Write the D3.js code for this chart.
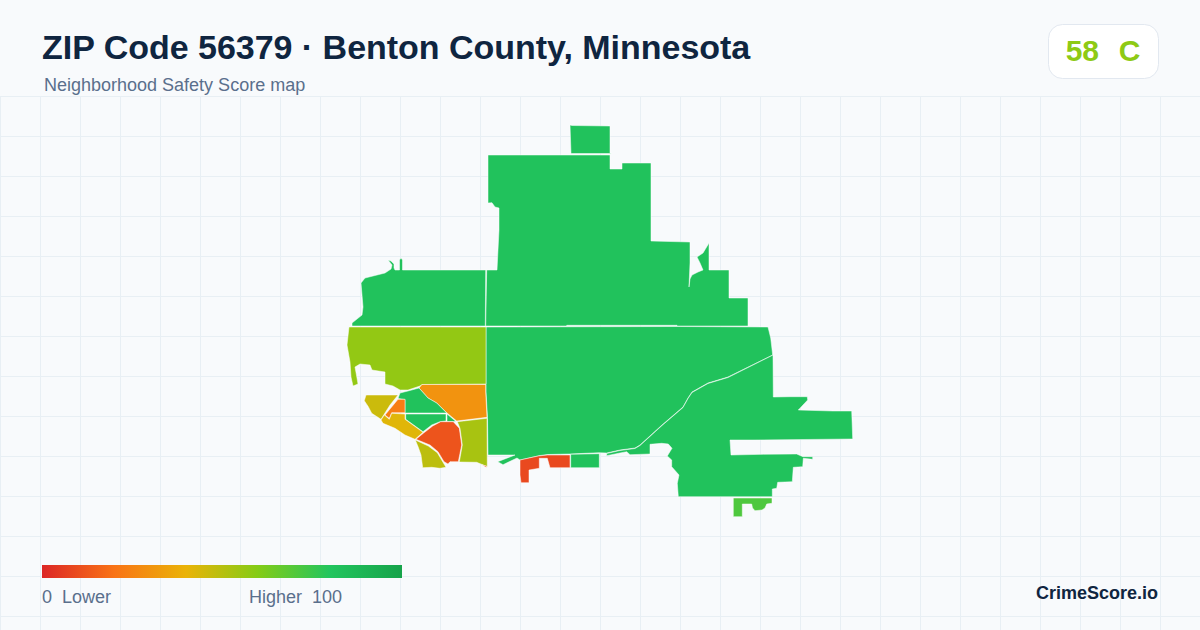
<!DOCTYPE html>
<html>
<head>
<meta charset="utf-8">
<script src="https://cdn.jsdelivr.net/npm/d3@7"></script>
<style>
  html, body { margin: 0; padding: 0; background: #f8fafc; }
  svg { display: block; }
  text { font-family: "Liberation Sans", Arial, sans-serif; white-space: pre; }
</style>
</head>
<body>
<div id="chart"></div>
<script>
// title block and legend text
const titleText = "ZIP Code 56379 · Benton County, Minnesota";
const subtitleText = "Neighborhood Safety Score map";
const badgeText = "58  C";
const legendLow = "0  Lower";
const legendHigh = "Higher  100";
const brandText = "CrimeScore.io";

// colour ramp of the score
const rampStops = [0, 20, 40, 60, 80, 100];
const rampColors = ["#dc2626", "#f97316", "#eab308", "#84cc16", "#22c55e", "#16a34a"];

// neighbourhood scores, read from the fills
const regionScores = [82, 82, 82, 82, 57, 30, 82, 82, 82, 23, 46, 42, 12, 49, 53, 15, 9, 82, 82, 71];

// neighbourhood outlines, traced in map units
const northTop = [[570,125],[572,125.5],[610,126],[610,153],[612,153.5],[571,153.5]];
const northBig = [[488,155],[610,155],[610,169],[622,169],[622,163],[651,163],[651,241],[690,242],[690,263],[689,287],[690,279],[692,275],[698,272],[703,270],[700,263],[697,257],[703,253],[709,243],[709,270],[729,270],[729,298],[748,298],[748,326],[677,326],[677,325.3],[566.7,325.3],[566.7,326],[485.7,326],[486.7,270],[497,270],[499,230],[499,208],[495,207],[492,202.7],[488,203]];
const northWest = [[399.5,270],[399.5,260],[401,258],[402.5,260],[402.5,270],[485.7,270],[485.3,326],[352,326],[352,323],[362,315],[363,307],[361,283],[365,278],[373,276],[385,273],[391,269],[392,265],[388,260],[391,261],[394,264],[394,268],[395,270]];
const central = [[486,327],[677,326.5],[768,327],[770.7,338],[772.7,355],[728,377],[708,383],[692,392],[688,398],[683,407],[662,425],[640,445],[635,448],[620,450],[606.7,453],[599,452.7],[570,454],[548,454.5],[540,455.5],[520,460],[517,458],[503,464.7],[497.7,461.7],[515,455],[488,455],[487.5,418],[486,392]];
const westLime = [[349,327],[486,327],[486,384],[422,384.5],[420,386],[408,390],[400,390],[393,386],[385,384],[385,372],[372,370],[370,365],[360,364],[355,367],[357,378],[358,384],[353,386],[351,377],[350,362],[347,345]];
const orangeEast = [[422,384.5],[485.7,384.5],[485.7,392],[487,417.3],[456.7,421],[446.7,412.7],[436.7,403],[428,398],[419,388]];
const greenUpper = [[419,388],[408,391],[400,393],[398,398.5],[405,399.5],[405,413],[446.7,413],[436.7,403],[428,398]];
const greenLower = [[405.7,414],[446,414],[446,421],[440,421.7],[431.7,425],[423,431.7],[405.7,419.3]];
const greenWedge = [[447,414],[456,421.5],[447,421.5]];
const orangeSmall = [[398,399.3],[405,399.3],[405,412.7],[391.7,412.7],[389.3,418.3],[385,415]];
const yellowWest = [[366,395],[398,395],[390,405],[381,419.3],[371.7,413.3],[368.3,406.7],[364.3,400.7]];
const amberStrip = [[381,420],[384.3,415],[389.3,419.3],[391.7,413.3],[405,414],[405,419.3],[423,432.3],[415,439.3],[405,435],[395,428.3],[383,423.3]];
const redCore = [[416,439.3],[423.3,433.3],[432.7,426],[440.7,421.7],[453.3,421.7],[459.3,428.3],[461.7,445],[458.3,461.7],[450,461.7],[448,464],[444,461.7],[438,451.7],[430,445]];
const oliveSouth = [[415.3,440],[428.3,446],[437.3,452.7],[446,467.3],[440,468.3],[431.7,467.3],[422.7,467.7],[421,455],[418.3,447.3]];
const limeSouth = [[457.3,421.7],[487,418.3],[487.3,466.7],[483.3,465],[476.7,462.3],[459.3,462],[462.3,445],[460,428.3]];
const redSpeck = [[482,465],[486.5,466],[486.5,467.5]];
const redRiver = [[520,460],[538.3,456],[547.3,455],[570,455],[570,467.7],[550,467.7],[547.3,458.3],[539.3,458.3],[539.3,468.3],[529,470],[529,482.7],[521,482.7],[520,475]];
const greenRiver = [[570.7,454.3],[599.3,453.7],[599.3,467.7],[570.7,467.7]];
const southEast = [[773,355],[773.3,397],[790,396.7],[807.3,396.7],[807.7,400],[798.3,410],[833,411],[851.7,411],[852.7,439],[753,440],[730,440],[731,455],[763.3,454.3],[796.7,454],[803,456.7],[812.7,456.7],[812.7,459.3],[803.3,458.3],[802.7,466.7],[793.3,467.3],[792.3,481.7],[777.7,482.3],[776.7,488.3],[772.3,489],[772.3,496.7],[678.3,496.7],[677.3,483.3],[679,475],[671.7,466.7],[671.7,460],[667.3,456],[672,448.3],[668.3,444],[661.7,443.3],[650,444.3],[650,454],[630,454.7],[626.7,451.7],[620,453],[606.7,455.7],[606.7,453.5],[620,450.5],[635,448.5],[640,445.5],[662,425.5],[683,407.5],[688,398.5],[692,392.5],[708,383.5],[728,377.5]];
const southTip = [[733.3,498],[772,498],[772,503.3],[766.7,504],[765,508],[762,510],[755,510.7],[752.5,508],[751.7,504],[742.3,504],[742.3,516.7],[733.3,516.7]];

const regionRings = [northTop, northBig, northWest, central, westLime, orangeEast, greenUpper, greenLower, greenWedge, orangeSmall, yellowWest, amberStrip, redCore, oliveSouth, limeSouth, redSpeck, redRiver, greenRiver, southEast, southTip];

const width = 1200, height = 630;

const svg = d3.select("#chart").append("svg")
  .attr("width", width)
  .attr("height", height);

svg.append("rect").attr("width", width).attr("height", height).attr("fill", "#f8fafc");

// background grid
const gridTop = 96, gridStep = 40;
const grid = svg.append("g").attr("stroke", "#e8eff4").attr("stroke-width", 1);
grid.selectAll("line.v")
  .data(d3.range(0, width, gridStep))
  .enter().append("line")
  .attr("class", "v")
  .attr("x1", d => d + 0.5).attr("x2", d => d + 0.5)
  .attr("y1", gridTop).attr("y2", height);
grid.selectAll("line.h")
  .data(d3.range(gridTop, height, gridStep))
  .enter().append("line")
  .attr("class", "h")
  .attr("x1", 0).attr("x2", width)
  .attr("y1", d => d + 0.5).attr("y2", d => d + 0.5);

// map
const color = d3.scaleLinear().domain(rampStops).range(rampColors);

const features = regionRings.map((ring, i) => ({
  type: "Feature",
  properties: { score: regionScores[i] },
  geometry: { type: "Polygon", coordinates: [ring.concat([ring[0]])] }
}));
const collection = { type: "FeatureCollection", features: features };

const projection = d3.geoIdentity().fitExtent([[347, 125], [852.7, 516.7]], collection);
const path = d3.geoPath(projection);

svg.append("g").selectAll("path")
  .data(features)
  .enter().append("path")
  .attr("d", path)
  .attr("fill", d => color(d.properties.score))
  .attr("stroke", "#ffffff")
  .attr("stroke-width", 0.5)
  .attr("stroke-linejoin", "round");

// header
svg.append("text")
  .attr("x", 42).attr("y", 59)
  .attr("font-size", 34).attr("font-weight", 700)
  .attr("letter-spacing", -0.02)
  .attr("fill", "#0f2540")
  .text(titleText);

svg.append("text")
  .attr("x", 44).attr("y", 91)
  .attr("font-size", 18)
  .attr("fill", "#5a6f8c")
  .text(subtitleText);

// score badge
svg.append("rect")
  .attr("x", 1048.5).attr("y", 24.5)
  .attr("width", 110).attr("height", 54).attr("rx", 14)
  .attr("fill", "#ffffff")
  .attr("stroke", "#e2e8f0");

svg.append("text")
  .attr("x", 1103).attr("y", 61)
  .attr("text-anchor", "middle")
  .attr("font-size", 30).attr("font-weight", 700)
  .attr("word-spacing", 1.5)
  .attr("fill", color(58))
  .text(badgeText);

// legend
const legendX = d3.scaleLinear().domain([0, 100]).range([42, 402]);

const gradient = svg.append("defs").append("linearGradient")
  .attr("id", "ramp")
  .attr("x1", "0%").attr("x2", "100%");
gradient.selectAll("stop")
  .data(rampStops)
  .enter().append("stop")
  .attr("offset", d => d + "%")
  .attr("stop-color", d => color(d));

svg.append("rect")
  .attr("x", legendX(0)).attr("y", 565)
  .attr("width", legendX(100) - legendX(0)).attr("height", 13)
  .attr("fill", "url(#ramp)");

svg.append("text")
  .attr("x", 42).attr("y", 603)
  .attr("font-size", 18)
  .attr("fill", "#5a6f8c")
  .text(legendLow);

svg.append("text")
  .attr("x", 342).attr("y", 603)
  .attr("text-anchor", "end")
  .attr("font-size", 18)
  .attr("fill", "#5a6f8c")
  .text(legendHigh);

svg.append("text")
  .attr("x", 1158).attr("y", 599)
  .attr("text-anchor", "end")
  .attr("font-size", 18).attr("font-weight", 700)
  .attr("fill", "#0f2540")
  .text(brandText);
</script>
</body>
</html>
